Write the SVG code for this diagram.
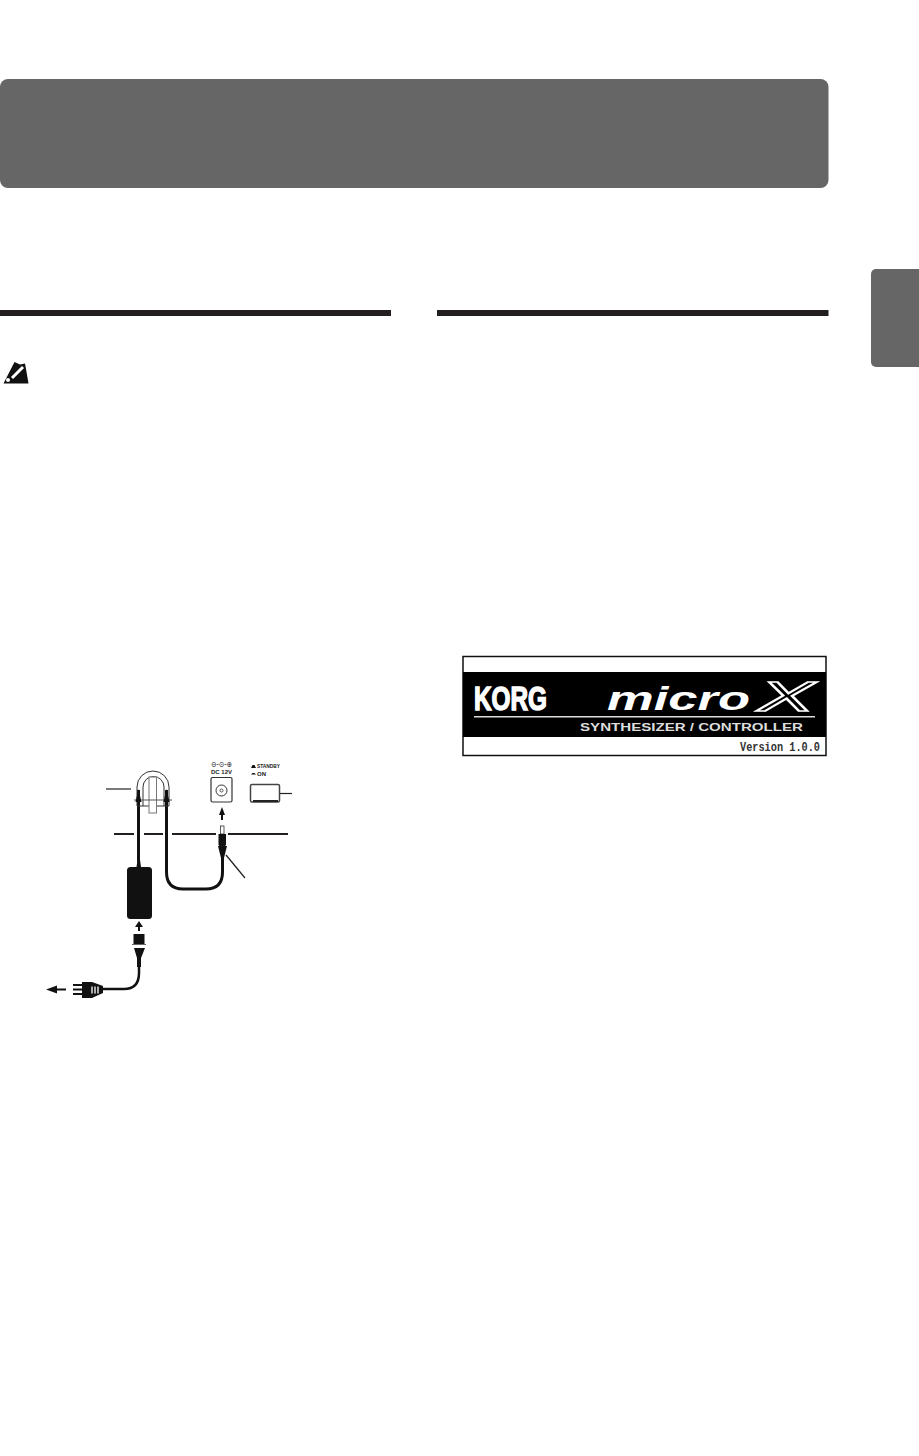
<svg xmlns="http://www.w3.org/2000/svg" width="919" height="1456" viewBox="0 0 919 1456">
<defs>
<style>
.bar{fill:#666666}
.rule{fill:#231f20}
.ln{fill:none;stroke:#231f20;stroke-width:1.2}
.thin{fill:none;stroke:#333;stroke-width:1}
.cable{fill:none;stroke:#111;stroke-width:3}
.blk{fill:#111}
.lbl{font-family:"Liberation Sans",Arial,sans-serif;font-weight:700;fill:#222}
</style>
</defs>
<rect width="919" height="1456" fill="#fff"/>
<g id="header"><rect class="bar" x="0" y="79" width="828.5" height="109" rx="8"/></g>
<g id="side-tab"><path class="bar" d="M919 269H876a5 5 0 0 0-5 5V362a5 5 0 0 0 5 5H919Z"/></g>
<g id="rules">
<rect class="rule" x="0" y="310" width="391" height="6"/>
<rect class="rule" x="437" y="310" width="391.500" height="6"/>
</g>
<g id="note-icon">
<path class="blk" d="M3.500 383.500L14.500 362L20 364.500L25 363.500L26 369L28.500 383.500Z"/>
<path d="M12 378L23 367" stroke="#fff" stroke-width="3" fill="none"/>
<circle cx="8" cy="380" r="2" fill="#fff"/>
</g>
<g id="connectors">
<path class="ln" d="M114 834H134M144 834H163M172 834H216M228 834H288" style="stroke-width:2"/>
<path class="ln" d="M106 789H131"/>
<path class="ln" d="M270 793.500H292"/>
<path class="ln" d="M226 855L245 878"/>
<path class="cable" d="M138.500 790V862"/>
<path class="cable" d="M166.500 790V872Q166.500 889 183 889H206Q222.500 889 222.500 872V845"/>
<path class="cable" d="M139 965V973Q139 989 124 989H103" style="stroke-width:2.500"/>
</g>
<g id="cable-loop">
<path class="thin" d="M137 806V787A16 16 0 0 1 169 787V806H137Z" stroke-width="1.200"/>
<path class="thin" d="M143 806V787A10.500 10.500 0 0 1 164 787V806"/>
<rect x="149" y="777" width="7.500" height="36" fill="#fff" stroke="#777" stroke-width="1"/>
<path d="M134 800H172" stroke="#555" stroke-width="1"/>
<path class="blk" d="M135.500 802L138.500 789L141.500 802ZM163.500 802L166.500 789L169.500 802Z"/>
</g>
<g id="dc-jack">
<text class="lbl" x="211" y="767" font-size="8" textLength="21" lengthAdjust="spacingAndGlyphs" style="font-family:'DejaVu Sans',sans-serif;font-weight:400">⊖-⊙-⊕</text>
<text class="lbl" x="221.500" y="774" font-size="6" text-anchor="middle">DC 12V</text>
<rect x="211" y="777.500" width="21" height="24.500" rx="1.500" fill="#fff" stroke="#333" stroke-width="1.200"/>
<circle cx="221.500" cy="790.500" r="5.500" fill="#fff" stroke="#333" stroke-width="1"/>
<circle cx="221.500" cy="790.500" r="1.500" fill="none" stroke="#333" stroke-width="0.800"/>
</g>
<g id="standby-switch">
<path class="blk" d="M251 768L252.500 765H254.500L256 768ZM251 774.500L252.500 773H254.500L256 774.500Z"/>
<text class="lbl" x="257" y="768" font-size="6" textLength="23" lengthAdjust="spacingAndGlyphs">STANDBY</text>
<text class="lbl" x="257" y="775.500" font-size="6">ON</text>
<rect x="250.500" y="784.500" width="29" height="17.500" rx="1.500" fill="#fff" stroke="#444" stroke-width="1.500"/>
<path d="M253 801H278" stroke="#222" stroke-width="2"/>
</g>
<g id="dc-plug">
<path class="blk" d="M222 807L225 815H223V820H221V815H219Z"/>
<rect x="220.500" y="826" width="3.500" height="8" fill="#fff" stroke="#333" stroke-width="0.800"/>
<path class="blk" d="M218.500 834H226V845L224 847H220.500L218.500 845Z"/>
<path class="blk" d="M218 846H227L224 858H221Z"/>
</g>
<g id="ac-adapter">
<rect class="blk" x="127" y="867" width="25" height="52" rx="3.500"/>
<path class="blk" d="M136.500 867L137.500 860H140L141 867Z"/>
<path class="blk" d="M139 921L143 927H140V931H138V927H135Z"/>
</g>
<g id="ac-plug">
<rect class="blk" x="133.500" y="934" width="11" height="10"/>
<path d="M132 944.500H146" stroke="#666" stroke-width="1"/>
<path class="blk" d="M134 948H145L141 958V967H137V958Z"/>
</g>
<g id="mains-plug">
<path class="blk" d="M82 982H92L103 986V993L92 998H82Z"/>
<path d="M92 986.500V993.500M95 986.500V993.500M98 986.500V993.500" stroke="#fff" stroke-width="1.300"/>
<path class="blk" d="M73 984H82V986H73ZM73 988.500H82V990.500H73ZM73 993H82V995H73Z"/>
<path class="blk" d="M46 989.500L57 985.500V988.500H66V990.500H57V993.500Z"/>
</g>
<g id="startup-screen">
<rect x="463" y="656.500" width="363" height="99" fill="#fff" stroke="#111" stroke-width="1.500"/>
<rect x="463" y="672" width="363" height="65" fill="#000"/>
<text x="474" y="710" font-family="Liberation Sans,sans-serif" font-weight="700" font-size="33" fill="#fff" stroke="#fff" stroke-width="1.500" textLength="73" lengthAdjust="spacingAndGlyphs">KORG</text>
<text x="607" y="710" font-family="Liberation Sans,sans-serif" font-weight="700" font-style="italic" font-size="33" fill="#fff" textLength="143" lengthAdjust="spacingAndGlyphs">micro</text>
<text x="758" y="711" font-family="Liberation Sans,sans-serif" font-weight="400" font-style="italic" font-size="42" fill="#000" stroke="#fff" stroke-width="1.600" textLength="56" lengthAdjust="spacingAndGlyphs">X</text>
<rect x="474" y="716" width="341" height="1.500" fill="#ddd"/>
<text x="580" y="731" font-family="Liberation Sans,sans-serif" font-weight="700" font-size="11" fill="#ddd" textLength="223" lengthAdjust="spacingAndGlyphs">SYNTHESIZER / CONTROLLER</text>
<text x="740" y="751" font-family="Liberation Mono,monospace" font-weight="700" font-size="12.500" fill="#333" textLength="80" lengthAdjust="spacingAndGlyphs">Version 1.0.0</text>
</g>
</svg>
